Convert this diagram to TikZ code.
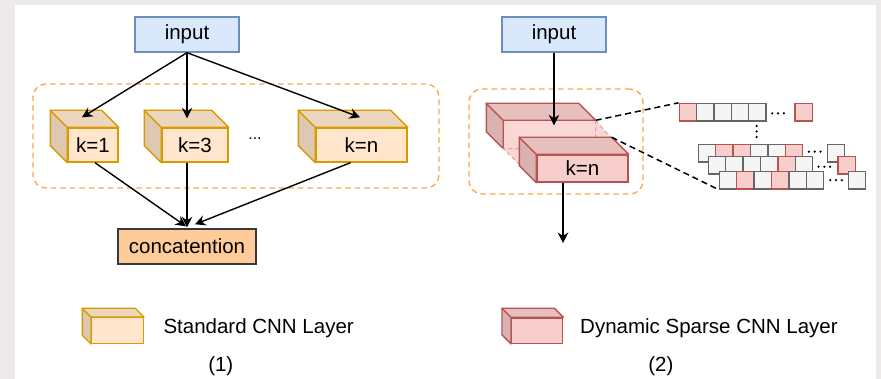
\documentclass[tikz,border=0pt]{standalone}
\usepackage{fontspec}
\setmainfont{Liberation Sans}
\usetikzlibrary{arrows.meta,calc}

\definecolor{bluefill}{HTML}{DAE8FC}
\definecolor{bluedraw}{HTML}{6C8EBF}
\definecolor{yelfill}{HTML}{FFE6CC}
\definecolor{yeldraw}{HTML}{D79B00}
\definecolor{redfill}{HTML}{F8CECC}
\definecolor{reddraw}{HTML}{B85450}
\definecolor{catfill}{HTML}{FFCC99}
\definecolor{catdraw}{HTML}{36393D}
\definecolor{grpdraw}{HTML}{FFA64D}
\definecolor{cellfill}{HTML}{F5F5F5}
\definecolor{celldraw}{HTML}{666666}
\definecolor{pagebg}{HTML}{EEEAEA}

% left and top faces of a cuboid whose front face is node #1
\newcommand\cubesides[4]{%
  \filldraw[fill=#3!87!black, draw=#4, line width=1.4pt, line join=round]
    (#1.north west) -- ++(-#2,-#2) -- ([shift={(-#2,-#2)}]#1.south west) -- (#1.south west) -- cycle;
  \filldraw[fill=#3!93!black, draw=#4, line width=1.4pt, line join=round]
    (#1.north west) -- ++(-#2,-#2) -- ([shift={(-#2,-#2)}]#1.north east) -- (#1.north east) -- cycle;
}
% a row of three small dots centred at (#1,#2)
\newcommand\hdots[2]{%
  \foreach \dx in {-5.8,0,5.8} \fill (#1+\dx,#2) circle (1.25pt);
}

\begin{document}
\begin{tikzpicture}[x=1pt,y=-1pt,
  font=\fontsize{20.5}{24}\selectfont,
  box/.style={draw, line width=1.4pt, inner sep=0pt, minimum height=35pt},
  inbox/.style={box, fill=bluefill, draw=bluedraw, minimum width=104pt},
  catbox/.style={box, fill=catfill, draw=catdraw, minimum width=138pt},
  ylayer/.style={draw=yeldraw, fill=yelfill, line width=1.4pt, inner sep=0pt, minimum height=34pt},
  rlayer/.style={draw=reddraw, fill=redfill, line width=1.4pt, inner sep=0pt, minimum height=27pt, minimum width=91pt},
  group/.style={draw=grpdraw, dash pattern=on 5.5pt off 4pt, line width=1.4pt, rounded corners=13pt, inner sep=0pt},
  flow/.style={line width=1.4pt, -{Stealth[length=10.5pt,width=10.5pt,inset=3.5pt]}},
  zoomline/.style={line width=1.5pt, dash pattern=on 6pt off 4pt},
  cell/.style={draw=celldraw, fill=cellfill, line width=1.4pt, minimum size=17.4pt, inner sep=0pt},
  hot/.style={cell, draw=reddraw, fill=redfill},
  label/.style={inner sep=0pt}]

% page
\fill[pagebg] (0,0) rectangle (881,379);
\fill[white] (15,5) rectangle (876,379);
\useasboundingbox (0,0) rectangle (881,379);

% ---------- (1) standard CNN layers ----------
\node[group, minimum width=406pt, minimum height=104pt] (grp1) at (236,136) {};
\node[inbox] (in1) at (187,34.5) {input};

\node[ylayer, minimum width=50pt] (k1) at (93,145) {k=1};
\cubesides{k1}{17}{yelfill}{yeldraw}
\node[ylayer, minimum width=66pt] (k3) at (195,145) {k=3};
\cubesides{k3}{17}{yelfill}{yeldraw}
\node[ylayer, minimum width=91pt] (kn) at (361.5,145) {k=n};
\cubesides{kn}{17}{yelfill}{yeldraw}
\node[label, font=\fontsize{16}{20}\selectfont, anchor=base] (gap) at (255,140) {...};

\node[catbox] (cat) at (187,246.5) {concatention};

\draw[flow] (in1.south) -- ($(k1.north)+(-11,-10)$);
\draw[flow] (in1.south) -- ($(k3.north)+(-8,-9)$);
\draw[flow] (in1.south) -- ($(kn.north)+(-1.5,-10)$);
\draw[flow] ($(k1.south)+(2,0)$) -- ($(cat.north)+(-1,-2)$);
\draw[flow] ($(k3.south)+(-8,0)$) -- ($(cat.north)+(0,-1)$);
\draw[flow] ($(kn.south)+(-11,0)$) -- ($(cat.north)+(8,-4)$);

% ---------- (2) dynamic sparse CNN layer ----------
\node[group, minimum width=174pt, minimum height=105pt] (grp2) at (556,141.5) {};
\node[inbox] (in2) at (554,34.5) {input};

% rear slice
\node[rlayer, draw=none, fill=redfill!70!white] (back) at (549.5,134.5) {};
\cubesides{back}{17}{redfill}{reddraw}
% translucent body between the slices
\fill[redfill!80!white]
  (back.north west) -- (back.north east) -- (611,138) -- (520,138) -- cycle;
\fill[redfill!85!white]
  (back.north west) -- (520,138) -- (520,165) -- (back.south west) -- cycle;
\draw[reddraw, line width=1.4pt] (back.north east) -- (back.north west) -- (back.south west);
\draw[reddraw!55!white, line width=1pt, dash pattern=on 4pt off 3pt]
  (back.north east) -- (back.south east) -- (back.south west) -- (520,165);
\draw[reddraw!55!white, line width=1pt, dash pattern=on 4pt off 3pt]
  (back.north east) -- (611,138);

% front slice
\node[rlayer] (front) at (582.5,168.5) {k=n};
\cubesides{front}{17}{redfill}{reddraw}

\coordinate (outp) at (563,243);
\draw[flow] (in2.south) -- ($(back.north)+(4.5,5)$);
\draw[flow] ($(front.south)+(-19.5,0)$) -- (outp);

% sparse kernel rows
\foreach \c [count=\i from 0] in {hot,cell,cell,cell,cell}
  \node[\c] (r1-\i) at (688+17.35*\i,112.2) {};
\node[hot] (r1-s) at (803.7,112.2) {};
\hdots{778}{113.3}
\foreach \yy in {126,131.5,137} \fill (756.7,\yy) circle (1.25pt);

\foreach \c [count=\i from 0] in {cell,hot,hot,cell,cell,hot}
  \node[\c] (rA-\i) at (707+17.4*\i,153.5) {};
\node[cell] (rA-s) at (836,153.5) {};
\hdots{814.7}{151.7}

\foreach \c [count=\i from 0] in {cell,cell,cell,cell,hot,cell}
  \node[\c] (rB-\i) at (717+17.4*\i,165.4) {};
\node[hot] (rB-s) at (846.5,165.4) {};
\hdots{824.3}{166.7}

\foreach \c [count=\i from 0] in {cell,hot,cell,hot,cell,cell}
  \node[\c] (rC-\i) at (728+17.4*\i,180.2) {};
\node[cell] (rC-s) at (857,180.2) {};
\hdots{836}{180.2}

\draw[zoomline] (back.north east) -- (r1-0.north west);
\draw[zoomline] ([shift={(-17,-17)}]front.north east) -- (rC-0.south west);

% ---------- legend ----------
\node[ylayer, minimum width=51.6pt, minimum height=25.6pt] (lg1) at (117.5,330.5) {};
\cubesides{lg1}{8.7}{yelfill}{yeldraw}
\node[label, anchor=base west] (lt1) at (163.3,334) {Standard CNN Layer};
\node[label, anchor=base] (cap1) at (220.8,371) {(1)};

\node[rlayer, minimum width=51pt, minimum height=25.3pt] (lg2) at (537.2,330.6) {};
\cubesides{lg2}{9}{redfill}{reddraw}
\node[label, anchor=base west] (lt2) at (580,333.5) {Dynamic Sparse CNN Layer};
\node[label, anchor=base] (cap2) at (660.8,371) {(2)};
\end{tikzpicture}
\end{document}
